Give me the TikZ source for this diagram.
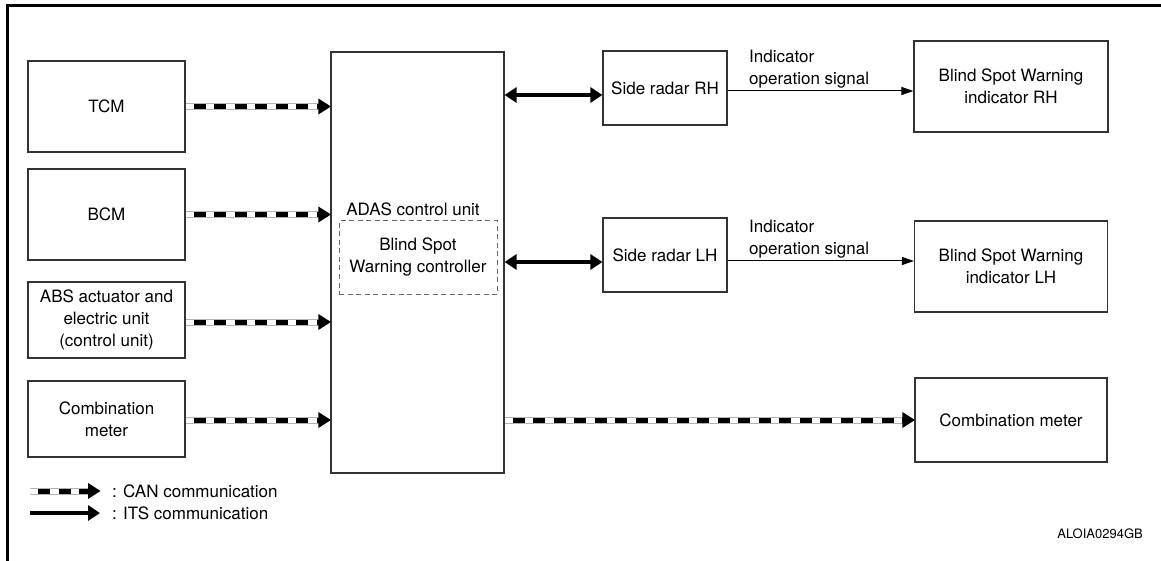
\documentclass[tikz,border=0pt]{standalone}
\usepackage{fontspec}
\setmainfont{TeX Gyre Heros}
\usetikzlibrary{arrows.meta,calc,decorations.markings}
\tikzset{
  txt/.style={font=\fontsize{17}{22}\selectfont, align=center, inner sep=0pt},
  blk/.style={txt, draw=black!80, line width=1.2pt, anchor=center},
  ctrlbox/.style={txt, draw=black!60, line width=1pt, dash pattern=on 5pt off 3.5pt},
  can/.style={draw=gray!60, line width=7pt, shorten >=11pt,
    postaction={draw=white, line width=5pt, shorten >=11pt},
    postaction={draw=black, line width=5pt, shorten >=11pt, dash pattern=on 12pt off 8.5pt, dash phase=12.5pt},
    postaction={decorate, decoration={markings, mark=at position 1 with {\fill[black] (0.5pt,0) -- (-12pt,8pt) -- (-12pt,-8pt) -- cycle;}}}},
  its/.style={draw=black, line width=4pt, -{Triangle[length=12pt,width=15pt]}},
  itsboth/.style={draw=black, line width=4pt, {Triangle[length=12pt,width=15pt]}-{Triangle[length=12pt,width=15pt]}},
  sig/.style={draw=black, line width=1pt, -{Triangle[length=12pt,width=8pt]}},
}
\begin{document}
\begin{tikzpicture}[x=1pt,y=-1pt]
\useasboundingbox (0,0) rectangle (1161,561);
% frame
\draw[line width=3pt, line join=miter] (7,561) -- (7,6) -- (1161,6);

% left blocks
\node[blk, minimum width=157pt, minimum height=91pt] (tcm) at (106.5,106.5) {TCM};
\node[blk, minimum width=157pt, minimum height=91pt] (bcm) at (106.5,214.5) {BCM};
\node[blk, minimum width=157pt, minimum height=76pt] (abs) at (106.5,320) {ABS actuator and\\electric unit\\(control unit)};
\node[blk, minimum width=157pt, minimum height=76pt] (cml) at (106.5,419) {Combination\\meter};

% ADAS
\node[blk, minimum width=173pt, minimum height=421pt] (adas) at (417.5,262.5) {};
\node[txt] (adaslbl) at (413,209) {ADAS control unit};
\node[ctrlbox, minimum width=158pt, minimum height=73pt] (bswc) at (418,257.5) {Blind Spot\\Warning controller};

% radars
\node[blk, minimum width=124pt, minimum height=74pt] (srrh) at (665,88) {Side radar RH};
\node[blk, minimum width=124pt, minimum height=74pt] (srlh) at (665,255) {Side radar LH};

% right blocks
\node[blk, minimum width=194pt, minimum height=91pt] (bswrh) at (1011,86.5) {Blind Spot Warning\\indicator RH};
\node[blk, minimum width=193pt, minimum height=91pt] (bswlh) at (1011,266.5) {Blind Spot Warning\\indicator LH};
\node[blk, minimum width=192pt, minimum height=84pt] (cmr) at (1011,420) {Combination meter};

% CAN arrows into ADAS
\draw[can] (tcm.east) -- (tcm.east -| adas.west);
\draw[can] (bcm.east) -- (bcm.east -| adas.west);
\draw[can] ($(abs.east)+(0,2)$) -- ($(abs.east -| adas.west)+(0,2)$);
\draw[can] ($(cml.east)+(0,1)$) -- ($(cml.east -| adas.west)+(0,1)$);
\draw[can] (adas.east |- cmr.west) -- (cmr.west);

% ITS
\coordinate (itsR) at ($(srrh.west)+(0,7)$);
\coordinate (itsL) at ($(srlh.west)+(0,7)$);
\draw[itsboth] (adas.east |- itsR) -- (itsR);
\draw[itsboth] (adas.east |- itsL) -- (itsL);

% indicator signals
\coordinate (sigR) at ($(srrh.east)+(0,3)$);
\coordinate (sigL) at ($(srlh.east)+(0,6)$);
\draw[sig] (sigR) -- (sigR -| bswrh.west);
\draw[sig] (sigL) -- (sigL -| bswlh.west);
\node[txt, align=left, anchor=west] (sigRlbl) at (749,69) {Indicator\\operation signal};
\node[txt, align=left, anchor=west] (sigLlbl) at (749,239) {Indicator\\operation signal};

% legend
\coordinate (lc1) at (30,491);
\coordinate (lc2) at (100,491);
\coordinate (li1) at (30,513);
\coordinate (li2) at (100,513);
\draw[can] (lc1) -- (lc2);
\draw[its] (li1) -- (li2);
\node[txt, anchor=west] (canlbl) at (112,491) {: CAN communication};
\node[txt, anchor=west] (itslbl) at (112,513) {: ITS communication};

\node[inner sep=0pt, font=\fontsize{13}{15}\selectfont, anchor=east] (code) at (1143,534) {ALOIA0294GB};
\end{tikzpicture}
\end{document}
